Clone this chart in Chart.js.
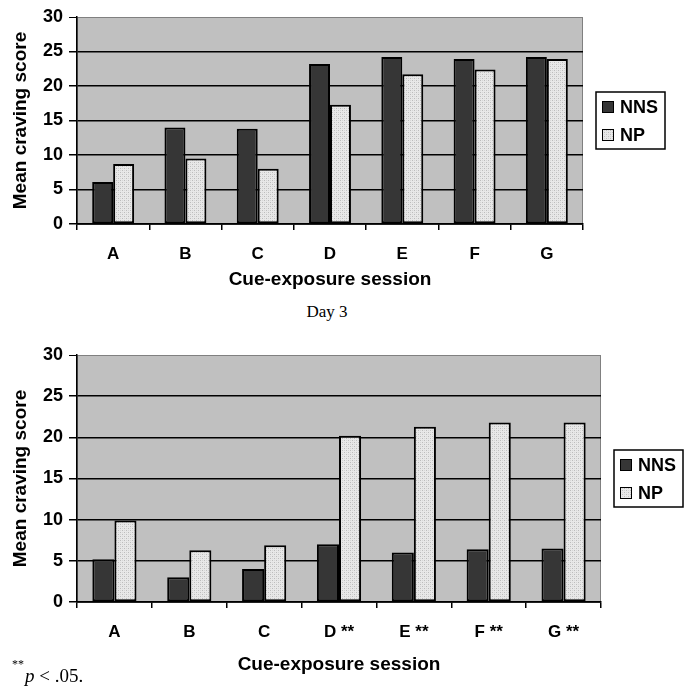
<!DOCTYPE html>
<html>
<head>
<meta charset="utf-8">
<script src="https://cdn.jsdelivr.net/npm/chart.js@4"></script>
<style>
html, body { margin: 0; padding: 0; background: #fff; }
#wrap { position: relative; width: 692px; height: 694px; }
canvas { position: absolute; left: 0; }
#topChart { top: 0; }
#bottomChart { top: 320px; }
.serif { position: absolute; font-family: "Liberation Serif", "Times New Roman", serif; color: #000; white-space: nowrap; }
</style>
</head>
<body>
<div id="wrap">
    <canvas id="topChart" width="692" height="300"></canvas>
    <div class="serif" style="left:0; width:654px; top:303px; text-align:center; font-size:17px; line-height:17px;">Day 3</div>
    <canvas id="bottomChart" width="692" height="374"></canvas>
    <div class="serif" style="left:12px; top:658px; font-size:12px; line-height:12px;">**</div>
    <div class="serif" style="left:25px; top:666px; font-size:19px; line-height:19px;"><i>p</i> &lt; .05.</div>
</div>
<script>
// Data
const SERIES_NAMES = ['NNS', 'NP'];
const TOP_LABELS = ['A', 'B', 'C', 'D', 'E', 'F', 'G'];
const BOTTOM_LABELS = ['A', 'B', 'C', 'D **', 'E **', 'F **', 'G **'];
const TOP_NNS = [6.1, 14.0, 13.8, 23.2, 24.2, 23.9, 24.2];
const TOP_NP = [8.7, 9.5, 8.0, 17.3, 21.7, 22.4, 23.9];
const BOTTOM_NNS = [5.2, 3.0, 4.0, 7.0, 6.0, 6.4, 6.5];
const BOTTOM_NP = [9.9, 6.3, 6.9, 20.2, 21.3, 21.8, 21.8];
const Y_MIN = 0, Y_MAX = 30, Y_STEP = 5;

const SANS = '"Liberation Sans", Arial, sans-serif';

// light stippled fill for NP bars
function makeStipple() {
    const c = document.createElement('canvas');
    c.width = 4; c.height = 4;
    const g = c.getContext('2d');
    g.fillStyle = '#e8e8e8';
    g.fillRect(0, 0, 4, 4);
    g.fillStyle = '#bcbcbc';
    g.fillRect(0, 0, 1, 1);
    g.fillRect(2, 2, 1, 1);
    g.fillStyle = '#d6d6d6';
    g.fillRect(2, 0, 1, 1);
    g.fillRect(0, 2, 1, 1);
    return g.createPattern(c, 'repeat');
}
const stipple = makeStipple();

// gray plot area like the old spreadsheet charts
const plotBackground = {
    id: 'plotBackground',
    beforeDraw(chart) {
        const { ctx, chartArea: a } = chart;
        ctx.save();
        ctx.fillStyle = '#c0c0c0';
        ctx.fillRect(a.left, a.top, a.right - a.left, a.bottom - a.top);
        ctx.strokeStyle = '#808080';
        ctx.lineWidth = 1;
        ctx.strokeRect(a.left + 0.5, a.top + 0.5, a.right - a.left - 1, a.bottom - a.top);
        ctx.restore();
    }
};

// boxed legend to the right of the plot
const boxedLegend = {
    id: 'boxedLegend',
    afterDraw(chart) {
        const { ctx, chartArea: a } = chart;
        const w = 69, h = 57;
        const x = a.right + 13;
        const y = Math.round((a.top + a.bottom) / 2 - h / 2);
        ctx.save();
        ctx.fillStyle = '#fff';
        ctx.fillRect(x, y, w, h);
        ctx.strokeStyle = '#000';
        ctx.lineWidth = 1.5;
        ctx.strokeRect(x, y, w, h);
        chart.data.datasets.forEach((ds, i) => {
            const cy = y + 15 + i * 28;
            ctx.fillStyle = ds.backgroundColor;
            ctx.fillRect(x + 6, cy - 6, 12, 12);
            ctx.lineWidth = 1;
            ctx.strokeStyle = '#000';
            ctx.strokeRect(x + 6.5, cy - 5.5, 11, 11);
            ctx.fillStyle = '#000';
            ctx.font = 'bold 18px ' + SANS;
            ctx.textBaseline = 'middle';
            ctx.fillText(ds.label, x + 24, cy + 1);
        });
        ctx.restore();
    }
};

function makeChart(id, labels, nns, np, opt) {
    const ctx = document.getElementById(id).getContext('2d');
    return new Chart(ctx, {
        type: 'bar',
        data: {
            labels: labels,
            datasets: [{
                label: SERIES_NAMES[0],
                data: nns,
                backgroundColor: '#363636',
                borderColor: '#000',
                borderWidth: 2,
                borderSkipped: false
            }, {
                label: SERIES_NAMES[1],
                data: np,
                backgroundColor: stipple,
                borderColor: '#000',
                borderWidth: 2,
                borderSkipped: false
            }]
        },
        options: {
            responsive: false,
            animation: false,
            devicePixelRatio: 1,
            categoryPercentage: opt.groupWidth,
            barPercentage: 1.0,
            layout: { padding: { top: opt.top, right: opt.right, left: 0, bottom: 0 } },
            plugins: { legend: { display: false }, tooltip: { enabled: false } },
            scales: {
                x: {
                    afterFit(scale) { scale.height = opt.axisHeight; },
                    grid: {
                        display: true,
                        drawOnChartArea: false,
                        drawTicks: true,
                        tickLength: 6,
                        offset: true,
                        color: '#000',
                        lineWidth: 1.5
                    },
                    border: { display: true, color: '#000', width: 1.5 },
                    ticks: {
                        color: '#000',
                        padding: 14,
                        font: { family: SANS, size: 17, weight: 'bold' }
                    },
                    title: {
                        display: true,
                        text: 'Cue-exposure session',
                        color: '#000',
                        font: { family: SANS, size: 19, weight: 'bold' },
                        padding: { top: 0, bottom: opt.titlePad }
                    }
                },
                y: {
                    min: Y_MIN,
                    max: Y_MAX,
                    afterFit(scale) { scale.width = 77; },
                    grid: {
                        color: c => (c.tick && c.tick.value === Y_MAX) ? '#808080' : '#000',
                        lineWidth: c => (c.tick && c.tick.value === Y_MAX) ? 1 : 1.5,
                        tickColor: '#000',
                        tickLength: 8
                    },
                    border: { display: true, color: '#000', width: 1.5 },
                    ticks: {
                        stepSize: Y_STEP,
                        color: '#000',
                        padding: 6,
                        font: { family: SANS, size: 18, weight: 'bold' }
                    },
                    title: {
                        display: true,
                        text: 'Mean craving score',
                        color: '#000',
                        font: { family: SANS, size: 19, weight: 'bold' },
                        padding: { top: 9, bottom: 0 }
                    }
                }
            }
        },
        plugins: [plotBackground, boxedLegend]
    });
}

// top chart: plot 77..583 x 17..224 ; bottom chart: plot 77..601 x 355..602
makeChart('topChart', TOP_LABELS, TOP_NNS, TOP_NP,
    { top: 17, right: 109, axisHeight: 76, titlePad: 8.6, groupWidth: 0.58 });
makeChart('bottomChart', BOTTOM_LABELS, BOTTOM_NNS, BOTTOM_NP,
    { top: 35, right: 91, axisHeight: 92, titlePad: 17.6, groupWidth: 0.59 });
</script>
</body>
</html>
